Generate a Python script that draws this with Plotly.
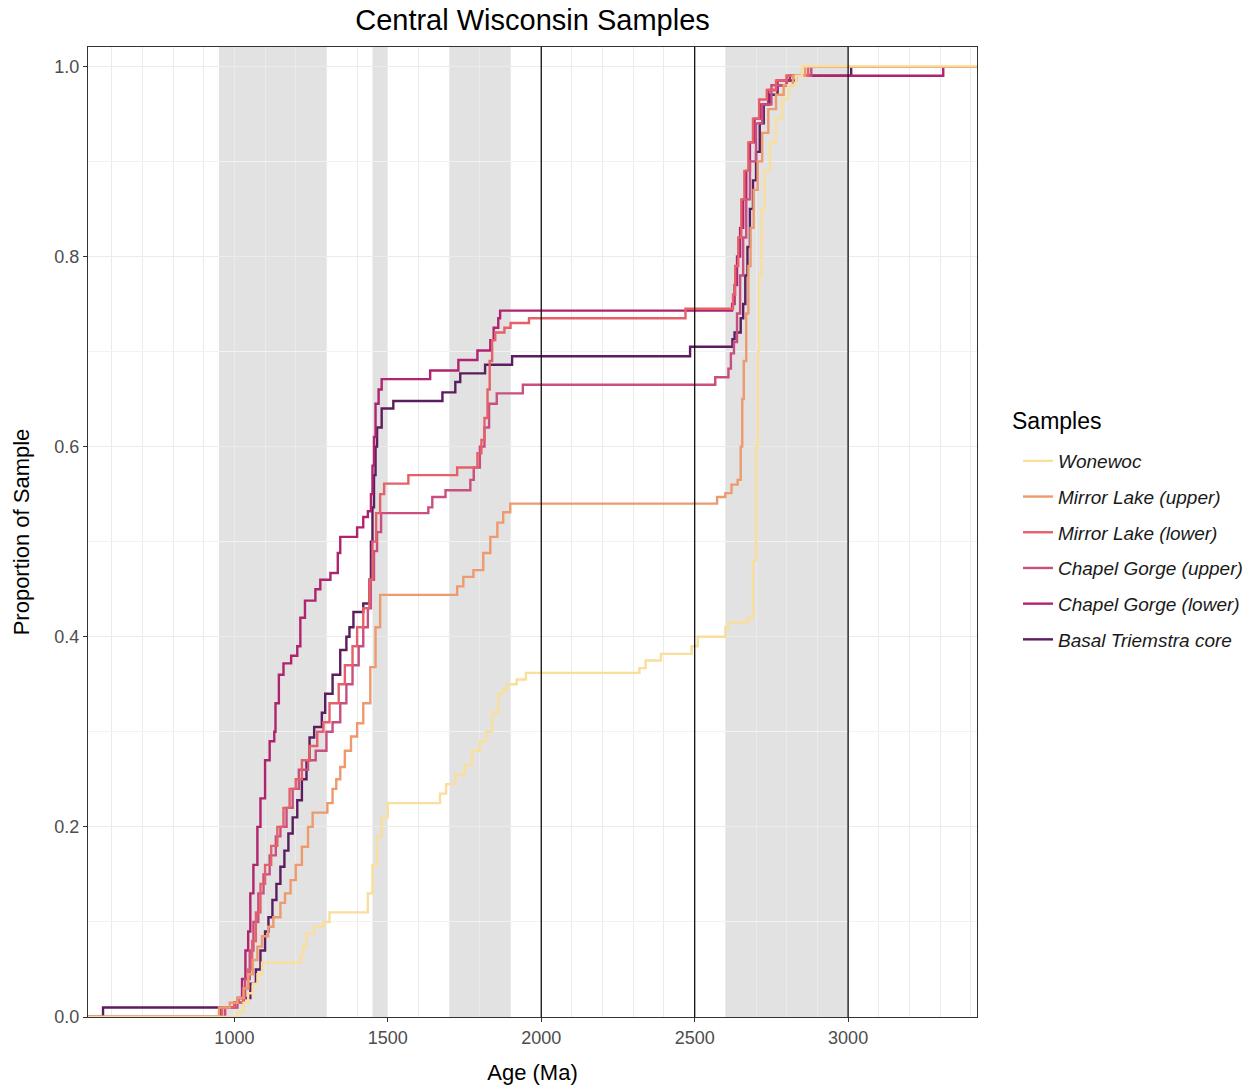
import plotly.graph_objects as go

# ---------------- data (ages in Ma, cumulative proportion after each age) ----------------
samples = ["Wonewoc", "Mirror Lake (upper)", "Mirror Lake (lower)",
           "Chapel Gorge (upper)", "Chapel Gorge (lower)", "Basal Triemstra core"]
colors = ["#F9DE9C", "#EC9A6E", "#E6606A", "#C94F80", "#B0246F", "#5B1D5D"]

wonewoc_age = [1010, 1030, 1045, 1060, 1075, 1090, 1215, 1225, 1235, 1260, 1290, 1310,
               1435, 1450, 1465, 1480, 1500, 1670, 1690, 1720, 1750, 1775, 1800, 1820,
               1840, 1860, 1875, 1890, 1920, 1950, 2320, 2340, 2390, 2490, 2510, 2600,
               2610, 2675, 2690, 2700, 2705, 2710, 2718, 2728, 2745, 2765, 2785, 2805,
               2830, 2850]
wonewoc_prop = [0.005, 0.015, 0.025, 0.035, 0.045, 0.057, 0.065, 0.075, 0.088, 0.095, 0.10, 0.11,
                0.13, 0.16, 0.19, 0.21, 0.225, 0.235, 0.245, 0.255, 0.265, 0.28, 0.29, 0.30,
                0.32, 0.34, 0.345, 0.35, 0.355, 0.362, 0.367, 0.375, 0.382, 0.39, 0.40, 0.41,
                0.415, 0.42, 0.48, 0.60, 0.70, 0.78, 0.85, 0.89, 0.92, 0.945, 0.965, 0.98,
                0.99, 1.0]

ml_upper_age = [950, 985, 1010, 1030, 1045, 1060, 1075, 1090, 1110, 1127, 1150, 1165, 1183,
                1200, 1220, 1240, 1255, 1303, 1320, 1332, 1345, 1360, 1380, 1400, 1420, 1443,
                1460, 1475, 1726, 1746, 1779, 1811, 1834, 1857, 1876, 1899, 2573, 2600, 2620,
                2640, 2650, 2655, 2660, 2668, 2675, 2682, 2692, 2705, 2720, 2740, 2765, 2790,
                2820, 2860]
ml_upper_prop = [0.01, 0.015, 0.02, 0.03, 0.045, 0.06, 0.074, 0.085, 0.095, 0.105, 0.12, 0.13, 0.144,
                 0.16, 0.179, 0.2, 0.215, 0.225, 0.24, 0.25, 0.263, 0.28, 0.295, 0.309, 0.33, 0.368,
                 0.41, 0.444, 0.453, 0.463, 0.47, 0.488, 0.505, 0.52, 0.531, 0.54, 0.547, 0.551, 0.56,
                 0.565, 0.60, 0.65, 0.69, 0.74, 0.79, 0.83, 0.87, 0.90, 0.93, 0.955, 0.97, 0.98,
                 0.99, 1.0]

ml_lower_age = [960, 1000, 1030, 1045, 1058, 1070, 1085, 1100, 1120, 1140, 1160, 1180, 1200,
                1220, 1245, 1270, 1290, 1310, 1340, 1360, 1385, 1400, 1420, 1440, 1450, 1462,
                1475, 1488, 1567, 1726, 1792, 1805, 1815, 1825, 1832, 1840, 1850, 1880, 1900,
                1960, 2470, 2625, 2632, 2642, 2652, 2662, 2675, 2690, 2710, 2735, 2765, 2800,
                2870]
ml_lower_prop = [0.01, 0.015, 0.03, 0.05, 0.08, 0.11, 0.14, 0.16, 0.18, 0.20, 0.22, 0.24, 0.25,
                 0.27, 0.285, 0.30, 0.31, 0.33, 0.35, 0.37, 0.39, 0.41, 0.43, 0.46, 0.50, 0.53,
                 0.55, 0.561, 0.57, 0.578, 0.593, 0.607, 0.63, 0.66, 0.69, 0.712, 0.72, 0.725, 0.73,
                 0.735, 0.745, 0.76, 0.79, 0.82, 0.86, 0.89, 0.92, 0.945, 0.965, 0.975, 0.985, 0.99,
                 1.0]

cg_upper_age = [970, 1010, 1035, 1050, 1062, 1078, 1095, 1115, 1135, 1150, 1170, 1190, 1210,
                1240, 1265, 1300, 1320, 1345, 1365, 1385, 1405, 1420, 1435, 1445, 1455, 1465,
                1478, 1632, 1645, 1688, 1769, 1780, 1800, 1815, 1830, 1855, 1940, 2567, 2610,
                2618, 2628, 2638, 2648, 2658, 2668, 2680, 2700, 2720, 2750, 2800, 2880]
cg_upper_prop = [0.01, 0.02, 0.04, 0.07, 0.10, 0.13, 0.15, 0.17, 0.19, 0.20, 0.22, 0.24, 0.26,
                 0.27, 0.28, 0.30, 0.31, 0.33, 0.35, 0.37, 0.39, 0.41, 0.43, 0.46, 0.49, 0.51,
                 0.53, 0.536, 0.547, 0.554, 0.565, 0.578, 0.60, 0.62, 0.645, 0.656, 0.665, 0.673,
                 0.682, 0.698, 0.71, 0.74, 0.78, 0.82, 0.86, 0.90, 0.94, 0.96, 0.98, 0.99, 1.0]

cg_lower_age = [955, 1000, 1013, 1025, 1036, 1045, 1052, 1062, 1075, 1085, 1100, 1115, 1130,
                1134, 1145, 1160, 1185, 1205, 1215, 1230, 1264, 1280, 1313, 1337, 1345, 1400,
                1420, 1435, 1445, 1450, 1455, 1460, 1470, 1480, 1638, 1730, 1792, 1834, 1845,
                1860, 1866, 2622, 2630, 2638, 2648, 2658, 2668, 2680, 2695, 2715, 2740, 2770,
                2810, 3310]
cg_lower_prop = [0.01, 0.015, 0.02, 0.04, 0.07, 0.09, 0.13, 0.16, 0.20, 0.23, 0.27, 0.29, 0.30,
                 0.33, 0.36, 0.372, 0.38, 0.39, 0.42, 0.438, 0.45, 0.46, 0.467, 0.488, 0.505, 0.515,
                 0.526, 0.532, 0.55, 0.58, 0.61, 0.645, 0.66, 0.671, 0.68, 0.691, 0.701, 0.712, 0.725,
                 0.735, 0.743, 0.75, 0.77, 0.80, 0.83, 0.86, 0.89, 0.92, 0.945, 0.96, 0.975, 0.985,
                 0.99, 1.0]

triemstra_age = [572, 1000, 1030, 1052, 1070, 1085, 1100, 1111, 1124, 1137, 1150, 1163, 1176,
                 1190, 1205, 1220, 1235, 1245, 1260, 1285, 1296, 1320, 1345, 1365, 1375, 1388,
                 1420, 1440, 1445, 1450, 1455, 1460, 1465, 1480, 1518, 1678, 1720, 1736, 1817,
                 1905, 2485, 2623, 2630, 2650, 2658, 2665, 2672, 2680, 2690, 2700, 2712, 2725,
                 2745, 2770, 2800, 2830, 3010]
triemstra_prop = [0.01, 0.015, 0.02, 0.035, 0.05, 0.07, 0.09, 0.105, 0.123, 0.14, 0.158, 0.175, 0.193,
                  0.21, 0.228, 0.25, 0.27, 0.294, 0.305, 0.32, 0.34, 0.36, 0.386, 0.40, 0.41, 0.426,
                  0.435, 0.46, 0.50, 0.536, 0.57, 0.60, 0.62, 0.64, 0.648, 0.657, 0.668, 0.677, 0.686,
                  0.695, 0.705, 0.713, 0.72, 0.735, 0.75, 0.78, 0.81, 0.85, 0.88, 0.91, 0.94, 0.96,
                  0.97, 0.98, 0.985, 0.99, 1.0]

series_ages = [wonewoc_age, ml_upper_age, ml_lower_age, cg_upper_age, cg_lower_age, triemstra_age]
series_props = [wonewoc_prop, ml_upper_prop, ml_lower_prop, cg_upper_prop, cg_lower_prop, triemstra_prop]

# shaded age windows (Ma) and reference lines
shade_start = [950, 1450, 1700, 2600]
shade_end = [1300, 1500, 1900, 3000]
ref_lines = [2000, 2500, 3000]

x_ticks = [1000, 1500, 2000, 2500, 3000]
y_ticks = [0.0, 0.2, 0.4, 0.6, 0.8, 1.0]
PAD_LO, PAD_HI = 0, 6000  # ECDF padding (like stat_ecdf pad=TRUE)

FONT = "Liberation Sans, Arial, sans-serif"
W, H = 1256, 1089

fig = go.Figure()
# draw in reverse so Wonewoc ends on top
for i in reversed(range(len(samples))):
    xs = [PAD_LO] + series_ages[i] + [PAD_HI]
    ys = [0.0] + series_props[i] + [1.0]
    fig.add_trace(go.Scatter(
        x=xs, y=ys, mode="lines", name=samples[i],
        line=dict(color=colors[i], width=2.4, shape="hv"),
        legendgroup=samples[i], legendrank=i + 1,
    ))

for s, e in zip(shade_start, shade_end):
    fig.add_shape(type="rect", xref="x", yref="paper", x0=s, x1=e, y0=0, y1=1,
                  fillcolor="#E2E2E2", line=dict(width=0), layer="between")
for xv in ref_lines:
    fig.add_shape(type="line", xref="x", yref="paper", x0=xv, x1=xv, y0=0, y1=1,
                  line=dict(color="#111111", width=1.3), layer="above")

axis_common = dict(
    showline=True, mirror=True, linecolor="#333333", linewidth=1.2,
    ticks="outside", ticklen=4, tickcolor="#333333", tickwidth=1,
    gridcolor="#EBEBEB", gridwidth=1, zeroline=False, automargin=False,
    tickfont=dict(family=FONT, size=18, color="#4D4D4D"),
)

fig.update_xaxes(
    range=[523, 3420], tickvals=x_ticks, ticktext=[str(v) for v in x_ticks],
    minor=dict(dtick=100, tick0=0, showgrid=True, gridcolor="#EBEBEB", gridwidth=1, ticks=""),
    title=dict(text="Age (Ma)", font=dict(family=FONT, size=22, color="#000000"), standoff=17),
    **axis_common,
)
fig.update_yaxes(
    range=[0, 1.0203], tickvals=y_ticks, ticktext=[f"{v:.1f}" for v in y_ticks],
    minor=dict(dtick=0.1, tick0=0, showgrid=True, gridcolor="#F2F2F2", gridwidth=1, ticks=""),
    title=dict(text="Proportion of Sample", font=dict(family=FONT, size=22, color="#000000"), standoff=18),
    **axis_common,
)

fig.add_annotation(
    text="Samples", xref="paper", yref="paper",
    x=(1010 - 88) / 889, y=(1017 - 421) / 970, xanchor="left", yanchor="middle",
    showarrow=False, font=dict(family=FONT, size=23, color="#000000"),
)

fig.update_layout(
    width=W, height=H,
    margin=dict(l=88, r=279, t=47, b=72, autoexpand=False),
    paper_bgcolor="white", plot_bgcolor="white",
    title=dict(text="Central Wisconsin Samples", x=0.5, xref="paper", xanchor="center",
               y=1 - 20 / H, yref="container", yanchor="middle",
               font=dict(family=FONT, size=29, color="#000000")),
    legend=dict(
        font=dict(family=FONT, size=19, color="#1A1A1A", style="italic"),
        xref="container", yref="container",
        x=1018 / W, xanchor="left", y=1 - 442 / H, yanchor="top",
        traceorder="grouped", tracegroupgap=8, itemwidth=30,
        bgcolor="rgba(0,0,0,0)",
    ),
    showlegend=True,
)

fig.write_html("out.html")
